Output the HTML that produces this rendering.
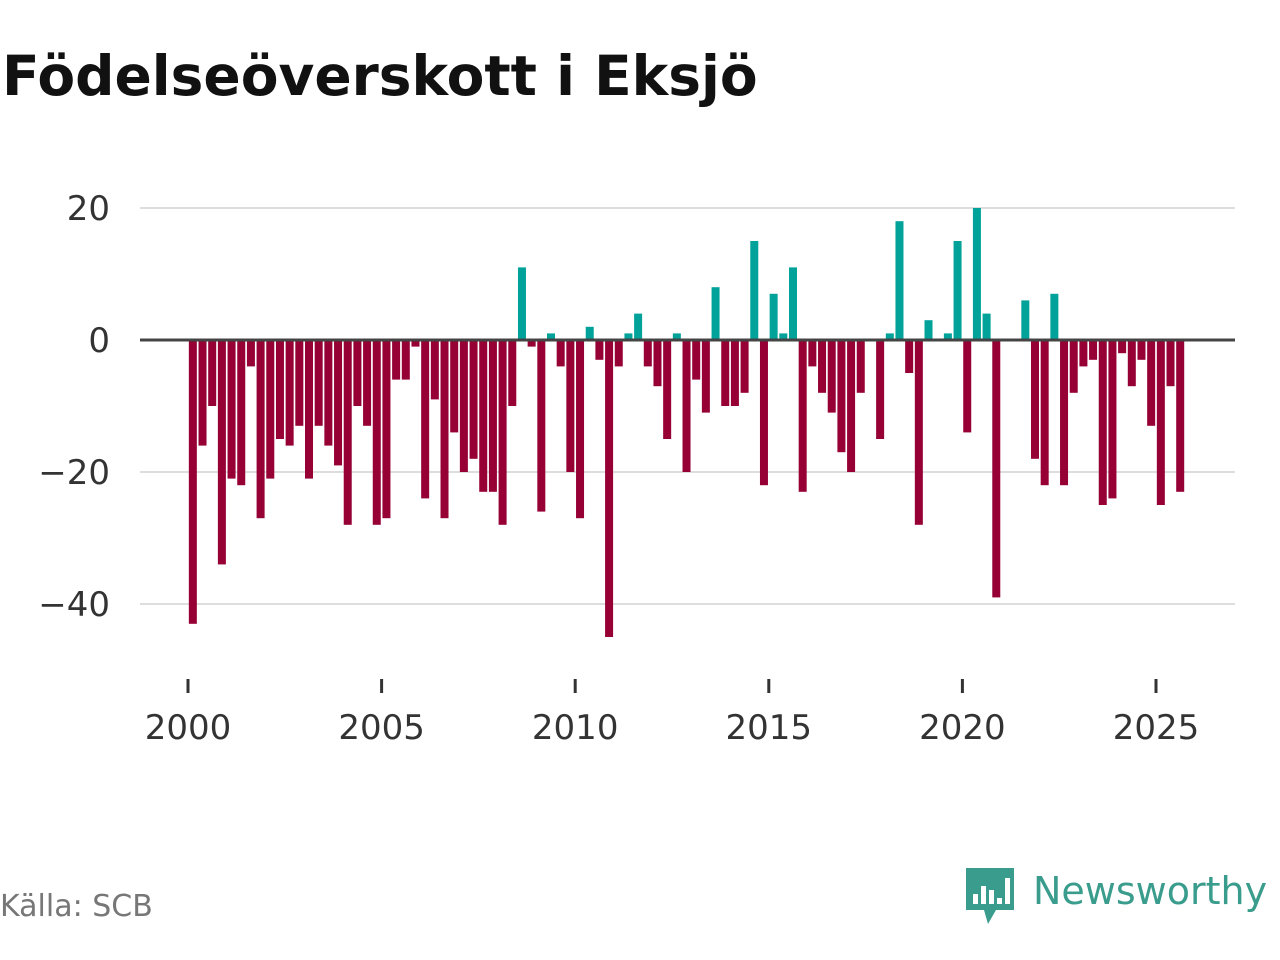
<!DOCTYPE html>
<html><head><meta charset="utf-8"><style>
body{margin:0;width:1280px;height:960px;background:#fff;font-family:"Liberation Sans","DejaVu Sans",sans-serif;overflow:hidden}
svg{position:absolute;left:0;top:0}
</style></head><body>
<svg width="1280" height="960" id="c">
<text x="2" y="95" font-size="55" font-weight="bold" fill="#111" font-family="DejaVu Sans, sans-serif">Födelseöverskott i Eksjö</text>
<text x="0" y="916" font-size="30" fill="#777" font-family="DejaVu Sans, sans-serif">Källa: SCB</text>
<g>
<path d="M966 868 h48 v42 h-18 l-8 14 l-4 -14 h-18 z" fill="#3a9c8c"/>
<rect x="973" y="894" width="5" height="10" fill="#fff"/><rect x="981" y="886" width="5" height="18" fill="#fff"/><rect x="989" y="890" width="5" height="14" fill="#fff"/><rect x="997" y="898" width="5" height="6" fill="#fff"/><rect x="1005" y="878" width="5" height="26" fill="#fff"/>
<text x="1033" y="904" font-size="38" fill="#3a9c8c" font-family="DejaVu Sans, sans-serif">Newsworthy</text>
</g>
<g id="grid"></g><g id="bars"></g><g id="axes"></g>
</svg>
<script>
const values=[-43,-16,-10,-34,-21,-22,-4,-27,-21,-15,-16,-13,-21,-13,-16,-19,-28,-10,-13,-28,-27,-6,-6,-1,-24,-9,-27,-14,-20,-18,-23,-23,-28,-10,11,-1,-26,1,-4,-20,-27,2,-3,-45,-4,1,4,-4,-7,-15,1,-20,-6,-11,8,-10,-10,-8,15,-22,7,1,11,-23,-4,-8,-11,-17,-20,-8,0,-15,1,18,-5,-28,3,0,1,15,-14,20,4,-39,0,0,6,-18,-22,7,-22,-8,-4,-3,-25,-24,-2,-7,-3,-13,-25,-7,-23];
const startYear=2000;
const yTicks=[20,0,-20,-40];
const yTickLabels=["20","0","\u221220","\u221240"];
const xTicks=[2000,2005,2010,2015,2020,2025];
const NS="http://www.w3.org/2000/svg";
const X=t=>188+(t-2000)*38.72;
const Y=v=>340-v*6.6;
function mk(tag,at,parent){const e=document.createElementNS(NS,tag);for(const k in at)e.setAttribute(k,at[k]);document.getElementById(parent).appendChild(e);return e;}
yTicks.forEach((t,i)=>{
 if(t!==0){const l=mk('line',{x1:140,x2:1235,y1:Y(t),y2:Y(t),stroke:'#ddd','stroke-width':2},'grid');
 
 }
 const tx=mk('text',{x:110,y:Y(t)+12,'text-anchor':'end','font-size':34,fill:'#333','font-family':'DejaVu Sans, sans-serif'},'axes');
 tx.textContent=yTickLabels[i];
 
 
});
values.forEach((v,i)=>{
 const cx=X(startYear+i*0.25+0.125);
 const r=mk('rect',{x:cx-4,y:Math.min(Y(v),Y(0)),width:8,height:Math.abs(Y(v)-Y(0)),fill:v>0?'#00a29a':'#960034'},'bars');
 
 
});
const z=mk('line',{x1:140,x2:1235,y1:Y(0),y2:Y(0),stroke:'#444','stroke-width':3},'axes');


xTicks.forEach(t=>{
 const l=mk('line',{x1:X(t),x2:X(t),y1:679,y2:693,stroke:'#333','stroke-width':3},'axes');
 
 
 const tx=mk('text',{x:X(t),y:739,'text-anchor':'middle','font-size':34,fill:'#333','font-family':'DejaVu Sans, sans-serif'},'axes');
 tx.textContent=t;
 
 
});
</script>
</body></html>
